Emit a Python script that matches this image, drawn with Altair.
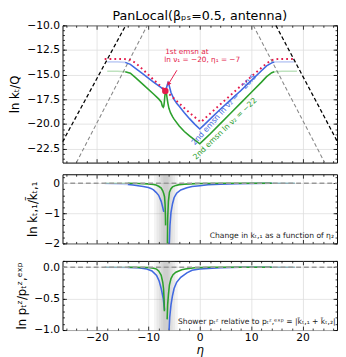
import altair as alt
import pandas as pd

FONT = "DejaVu Sans"
W = 282
XDOM = [-26.7, 26.7]
X_MAJ = [-20, -10, 0, 10, 20]
X_MIN = [-26, -24, -22, -18, -16, -14, -12, -8, -6, -4, -2, 2, 4, 6, 8, 12, 14, 16, 18, 22, 24, 26]

RED = "#e41b4b"
BLUE = "#4169e1"
GREEN = "#2ca02c"

# ---------------- top panel data ----------------
BLACK_L_ETA = [-26.7, -14.4]
BLACK_L_VAL = [-21.8, -10.0]
BLACK_R_ETA = [14.8, 26.7]
BLACK_R_VAL = [-10.0, -21.7]
GRAY_L_ETA = [-24.0, -10.2]
GRAY_L_VAL = [-23.9, -10.0]
GRAY_R_ETA = [10.4, 24.3]
GRAY_R_VAL = [-10.0, -23.9]

RED_ETA = [-18.5, -15.5, -14.5, -13.5, -12.5, -11, -9, -6.7, -4, -2, 0.2, 2, 4, 6, 8, 10, 12, 13, 14, 15, 16, 18.3]
RED_VAL = [-13.4, -13.4, -13.42, -13.5, -13.8, -14.5, -15.5, -16.6, -17.9, -18.85, -19.8, -18.95, -18.0, -17.07, -16.13, -15.2, -14.3, -13.85, -13.52, -13.42, -13.4, -13.4]

BLUE_FADE_L_ETA = [-18.0, -16.0, -14.5]
BLUE_FADE_L_VAL = [-13.7, -13.7, -13.75]
BLUE_FADE_R_ETA = [14.5, 16.0, 18.3]
BLUE_FADE_R_VAL = [-13.72, -13.7, -13.7]
BLUE_ETA = [-14.5, -13.5, -12.5, -11, -9, -7.5, -6.9, -6.7, -6.5, -6.3, -6.15, -6.0, -5.6, -5.0, -4.5, -4, -3, -2, -1, 0, 1, 2, 4, 6, 8, 10, 12, 13, 14, 14.5]
BLUE_VAL = [-13.75, -13.95, -14.35, -14.95, -15.75, -16.3, -16.55, -16.65, -16.4, -16.0, -15.8, -16.0, -16.8, -17.5, -17.9, -18.2, -18.85, -19.45, -20.0, -20.5, -20.0, -19.5, -18.5, -17.55, -16.6, -15.6, -14.6, -14.1, -13.8, -13.72]

GREEN_FADE_L_ETA = [-18.0, -16.0, -14.5]
GREEN_FADE_L_VAL = [-14.65, -14.65, -14.7]
GREEN_FADE_R_ETA = [14.5, 16.0, 18.9]
GREEN_FADE_R_VAL = [-14.7, -14.65, -14.65]
GREEN_ETA = [-14.5, -13.5, -12.5, -11, -9, -8, -7.5, -7.3, -7.1, -7.0, -6.9, -6.8, -6.7, -6.62, -6.5, -6.35, -6.2, -6.0, -5.7, -5.3, -5, -4, -3, -2, -1, 0, 1, 2, 4, 6, 8, 10, 12, 13, 14, 14.5]
GREEN_VAL = [-14.7, -14.85, -15.3, -16.0, -16.95, -17.45, -17.75, -18.15, -18.3, -18.2, -17.8, -17.2, -16.75, -16.6, -16.85, -17.4, -17.9, -18.4, -18.85, -19.25, -19.5, -20.2, -20.75, -21.2, -21.6, -22.0, -21.5, -21.0, -19.95, -18.9, -17.85, -16.8, -15.75, -15.2, -14.8, -14.7]

DOT_ETA = [-6.7]
DOT_VAL = [-16.65]

ANN_LINES = ["1st emsn at", "ln ν₁ = −20, η₁ = −7"]
ANN_ETA = [-6.72, -6.9]
ANN_VAL = [-12.72, -13.55]
ARROW_ETA = [-4.45, -6.1]
ARROW_VAL = [-14.55, -15.95]

LBL2_TEXT = ["2nd emsn ln ν₂ = −20.5", "2nd emsn ln ν₂ = −22"]
LBL2_ETA = [4.76, 4.95]
LBL2_VAL = [-18.55, -20.5]
LBL2_COL = [BLUE, GREEN]
LBL2_ANG = [312, 316]

# ---------------- middle panel data ----------------
M_GREEN_L_ETA = [-14, -12, -10, -9, -8.5, -8, -7.5, -7.2, -7.0, -6.85, -6.75, -6.68, -6.65]
M_GREEN_L_VAL = [0, -0.01, -0.02, -0.04, -0.06, -0.1, -0.16, -0.25, -0.35, -0.45, -0.7, -1.1, -1.4]
M_GREEN_R_ETA = [-6.3, -6.25, -6.1, -5.9, -5.6, -5.3, -4.65, -4, -3, -2, 0, 5, 14]
M_GREEN_R_VAL = [-2.1, -1.2, -0.6, -0.3, -0.18, -0.12, -0.07, -0.045, -0.03, -0.02, -0.01, 0, 0]
M_BLUE_L_ETA = [-14, -13, -12, -11, -10, -9.5, -9, -8.5, -8, -7.5, -7.2, -7.0]
M_BLUE_L_VAL = [-0.04, -0.06, -0.08, -0.11, -0.14, -0.17, -0.22, -0.3, -0.4, -0.6, -0.8, -0.95]
M_BLUE_R_ETA = [-5.95, -5.8, -5.6, -5.3, -5.0, -4.5, -3.7, -2.5, -1.5, 0, 1.6, 4, 7, 10, 14]
M_BLUE_R_VAL = [-2.1, -1.4, -0.97, -0.68, -0.48, -0.33, -0.22, -0.15, -0.11, -0.08, -0.05, -0.03, -0.015, -0.005, 0]
M_FADE_L_ETA = [-18.5, -14]
M_FADE_R_ETA = [14, 18.5]
M_TEXT = "Change in kₜ,₁ as a function of η₂"

# ---------------- bottom panel data ----------------
B_GREEN_L_ETA = [-14, -10, -9, -8.4, -8, -7.5, -7.2, -7.05, -6.95, -6.88]
B_GREEN_L_VAL = [0, -0.005, -0.015, -0.03, -0.06, -0.13, -0.24, -0.34, -0.5, -0.7]
B_GREEN_R_ETA = [-6.35, -6.25, -6.1, -5.9, -5.6, -5.2, -4.65, -3.5, -2.8, -1, 2, 14]
B_GREEN_R_VAL = [-0.83, -0.6, -0.44, -0.28, -0.18, -0.12, -0.08, -0.04, -0.03, -0.01, 0, 0]
B_BLUE_L_ETA = [-14, -12, -10.3, -9.3, -8.4, -7.9, -7.5, -7.1, -6.85]
B_BLUE_L_VAL = [-0.005, -0.01, -0.03, -0.06, -0.13, -0.22, -0.34, -0.5, -0.68]
B_BLUE_R_ETA = [-6.0, -5.85, -5.6, -5.3, -5.0, -4.5, -3.7, -2.5, -1.5, 0, 1.6, 4, 8, 14]
B_BLUE_R_VAL = [-1.05, -0.8, -0.6, -0.45, -0.34, -0.24, -0.16, -0.09, -0.05, -0.03, -0.02, -0.01, 0, 0]
B_TEXT = "Shower pₜᶻ relative to pₜᶻ,ᵉˣᵖ = |k̃ₜ,₁ + k̃ₜ,₂|"

BAND_CENTER = -6.6
BAND_HALF = [2.3, 1.8, 1.3, 0.9, 0.5]


def xs():
    return alt.Scale(domain=XDOM, nice=False, zero=False)


def ys(dom):
    return alt.Scale(domain=dom, nice=False, zero=False)


def df_lines(segs):
    rows = []
    for name, etas, vals in segs:
        for e, v in zip(etas, vals):
            rows.append({"eta": e, "val": v, "seg": name})
    return pd.DataFrame(rows)


def line_layer(segs, dom, color, width=1.6, dash=None, opacity=1.0):
    kw = dict(color=color, strokeWidth=width, clip=True, opacity=opacity)
    if dash:
        kw["strokeDash"] = dash
    return alt.Chart(df_lines(segs)).mark_line(**kw).encode(
        x=alt.X("eta:Q", scale=xs(), axis=None),
        y=alt.Y("val:Q", scale=ys(dom), axis=None),
        detail="seg:N",
        order="eta:Q",
    )


def axes_layers(dom, H, ymaj, ymin, yfmt, ytitle, xlabels):
    d = pd.DataFrame({"x": [0.0], "y": [dom[0]]})
    base = alt.Chart(d).mark_point(opacity=0, size=1)
    if xlabels:
        xmain = alt.Axis(values=X_MAJ, grid=True, gridColor="#dddddd", gridWidth=0.8,
                         ticks=False, domain=False, labels=True, format="d",
                         labelFont=FONT, labelFontSize=11, labelColor="black", labelPadding=2,
                         title="η", titleFont=FONT, titleFontSize=12, titleFontStyle="italic",
                         titleFontWeight="normal", titleColor="black", titlePadding=2)
    else:
        xmain = alt.Axis(values=X_MAJ, grid=True, gridColor="#dddddd", gridWidth=0.8,
                         ticks=False, domain=False, labels=False, title=None)
    ymainax = alt.Axis(values=ymaj, grid=True, gridColor="#dddddd", gridWidth=0.8,
                       ticks=False, domain=False, labels=True, format=yfmt,
                       labelFont=FONT, labelFontSize=11, labelColor="black", labelPadding=3,
                       title=ytitle, titleFont=FONT, titleFontSize=12, titleFontWeight="normal",
                       titleColor="black", titlePadding=5)
    layers = [base.encode(x=alt.X("x:Q", scale=xs(), axis=xmain),
                          y=alt.Y("y:Q", scale=ys(dom), axis=ymainax))]

    def tax(orient, off, vals, size):
        return alt.Axis(orient=orient, offset=off, values=vals, labels=False, grid=False,
                        domain=False, ticks=True, tickSize=size, tickColor="black",
                        tickWidth=0.8, minExtent=0, title=None)

    for (xo, yo, vx, vy, sz) in [("bottom", "right", X_MAJ, ymaj, 4),
                                 ("bottom", "right", X_MIN, ymin, 2),
                                 ("top", "left", X_MAJ, ymaj, 4),
                                 ("top", "left", X_MIN, ymin, 2)]:
        layers.append(base.encode(
            x=alt.X("x:Q", scale=xs(), axis=tax(xo, -H, vx, sz)),
            y=alt.Y("y:Q", scale=ys(dom), axis=tax(yo, -W, vy, sz)),
        ))
    return layers


def band_layers(H):
    rows = [{"lo": BAND_CENTER - h, "hi": BAND_CENTER + h} for h in BAND_HALF]
    return [alt.Chart(pd.DataFrame(rows)).mark_rect(color="#777777", opacity=0.08).encode(
        x=alt.X("lo:Q", scale=xs(), axis=None), x2="hi:Q",
        y=alt.value(0), y2=alt.value(H))]


# ---------- top panel ----------
TOP_DOM = [-23.9, -10.0]
H1 = 141
top_layers = axes_layers(TOP_DOM, H1, [-22.5, -20, -17.5, -15, -12.5, -10],
                         [v / 2 for v in range(-47, -19)], ".1f", "ln  kₜ/Q", False)
top_layers += [
    line_layer([("l", BLACK_L_ETA, BLACK_L_VAL), ("r", BLACK_R_ETA, BLACK_R_VAL)], TOP_DOM,
               "black", 1.3, [4, 2.5]),
    line_layer([("l", GRAY_L_ETA, GRAY_L_VAL), ("r", GRAY_R_ETA, GRAY_R_VAL)], TOP_DOM,
               "#888888", 1.1, [4, 2.5]),
    line_layer([("bl", BLUE_FADE_L_ETA, BLUE_FADE_L_VAL), ("br", BLUE_FADE_R_ETA, BLUE_FADE_R_VAL)],
               TOP_DOM, BLUE, 1.6, None, 0.3),
    line_layer([("gl", GREEN_FADE_L_ETA, GREEN_FADE_L_VAL), ("gr", GREEN_FADE_R_ETA, GREEN_FADE_R_VAL)],
               TOP_DOM, GREEN, 1.6, None, 0.3),
    line_layer([("g", GREEN_ETA, GREEN_VAL)], TOP_DOM, GREEN, 1.6),
    line_layer([("b", BLUE_ETA, BLUE_VAL)], TOP_DOM, BLUE, 1.6),
    line_layer([("r", RED_ETA, RED_VAL)], TOP_DOM, RED, 2.0, [1.8, 3.2]),
    alt.Chart(pd.DataFrame({"eta": ARROW_ETA[:1], "val": ARROW_VAL[:1],
                            "eta2": ARROW_ETA[1:], "val2": ARROW_VAL[1:]})).mark_rule(
        color=RED, strokeWidth=1).encode(
        x=alt.X("eta:Q", scale=xs(), axis=None), y=alt.Y("val:Q", scale=ys(TOP_DOM), axis=None),
        x2="eta2:Q", y2="val2:Q"),
    alt.Chart(pd.DataFrame({"eta": ARROW_ETA[1:], "val": ARROW_VAL[1:]})).mark_point(
        shape="triangle-up", filled=True, color=RED, size=22, angle=210, opacity=1).encode(
        x=alt.X("eta:Q", scale=xs(), axis=None), y=alt.Y("val:Q", scale=ys(TOP_DOM), axis=None)),
    alt.Chart(pd.DataFrame({"eta": DOT_ETA, "val": DOT_VAL})).mark_point(
        filled=True, color=RED, size=45, opacity=1).encode(
        x=alt.X("eta:Q", scale=xs(), axis=None), y=alt.Y("val:Q", scale=ys(TOP_DOM), axis=None)),
    alt.Chart(pd.DataFrame({"eta": ANN_ETA, "val": ANN_VAL, "t": ANN_LINES})).mark_text(
        font=FONT, fontSize=7.5, color=RED, align="left", baseline="middle").encode(
        x=alt.X("eta:Q", scale=xs(), axis=None), y=alt.Y("val:Q", scale=ys(TOP_DOM), axis=None),
        text="t:N"),
]
for t, e, v, c, a in zip(LBL2_TEXT, LBL2_ETA, LBL2_VAL, LBL2_COL, LBL2_ANG):
    top_layers.append(alt.Chart(pd.DataFrame({"eta": [e], "val": [v], "t": [t]})).mark_text(
        font=FONT, fontSize=7.9, angle=a, align="center", baseline="middle", color=c).encode(
        x=alt.X("eta:Q", scale=xs(), axis=None), y=alt.Y("val:Q", scale=ys(TOP_DOM), axis=None),
        text="t:N"))

top = alt.layer(*top_layers).resolve_axis(x="independent", y="independent").properties(
    width=W, height=H1,
    title=alt.TitleParams("PanLocal(βₚₛ=0.5, antenna)", font=FONT, fontSize=13,
                          fontWeight="normal", color="black", offset=-4, anchor="middle"))

# ---------- middle panel ----------
MID_DOM = [-2.0, 0.3]
H2 = 71
mid_layers = axes_layers(MID_DOM, H2, [-2, -1, 0], [round(-2 + 0.2 * i, 1) for i in range(12)],
                         "d", "ln  kₜ,₁/k̃ₜ,₁", False)
mid_layers += band_layers(H2)
mid_layers += [
    line_layer([("gl", M_FADE_L_ETA, [0, 0]), ("gr", M_FADE_R_ETA, [0, 0])], MID_DOM, GREEN, 1.6, None, 0.3),
    line_layer([("bl", M_FADE_L_ETA, [-0.005, -0.04]), ("br", M_FADE_R_ETA, [0, 0])], MID_DOM, BLUE, 1.6, None, 0.3),
    line_layer([("l", M_BLUE_L_ETA, M_BLUE_L_VAL), ("r", M_BLUE_R_ETA, M_BLUE_R_VAL)], MID_DOM, BLUE, 1.6),
    line_layer([("l", M_GREEN_L_ETA, M_GREEN_L_VAL), ("r", M_GREEN_R_ETA, M_GREEN_R_VAL)], MID_DOM, GREEN, 1.6),
    line_layer([("z", XDOM, [0, 0])], MID_DOM, "#999999", 1.5, [5, 3]),
    alt.Chart(pd.DataFrame({"eta": [26.1], "val": [-1.77], "t": [M_TEXT]})).mark_text(
        font=FONT, fontSize=7.8, color="#222222", align="right", baseline="middle").encode(
        x=alt.X("eta:Q", scale=xs(), axis=None), y=alt.Y("val:Q", scale=ys(MID_DOM), axis=None),
        text="t:N"),
]
mid = alt.layer(*mid_layers).resolve_axis(x="independent", y="independent").properties(width=W, height=H2)

# ---------- bottom panel ----------
BOT_DOM = [-1.0, 0.1]
H3 = 71
bot_layers = axes_layers(BOT_DOM, H3, [-1.0, -0.5, 0.0], [round(-1 + 0.1 * i, 1) for i in range(12)],
                         ".1f", "ln  pₜᶻ/pₜᶻ,ᵉˣᵖ", True)
bot_layers += band_layers(H3)
bot_layers += [
    line_layer([("gl", M_FADE_L_ETA, [0, 0]), ("gr", M_FADE_R_ETA, [0, 0])], BOT_DOM, GREEN, 1.6, None, 0.3),
    line_layer([("bl", M_FADE_L_ETA, [0, -0.005]), ("br", M_FADE_R_ETA, [0, 0])], BOT_DOM, BLUE, 1.6, None, 0.3),
    line_layer([("l", B_BLUE_L_ETA, B_BLUE_L_VAL), ("r", B_BLUE_R_ETA, B_BLUE_R_VAL)], BOT_DOM, BLUE, 1.6),
    line_layer([("l", B_GREEN_L_ETA, B_GREEN_L_VAL), ("r", B_GREEN_R_ETA, B_GREEN_R_VAL)], BOT_DOM, GREEN, 1.6),
    line_layer([("z", XDOM, [0, 0])], BOT_DOM, "#999999", 1.5, [5, 3]),
    alt.Chart(pd.DataFrame({"eta": [26.4], "val": [-0.88], "t": [B_TEXT]})).mark_text(
        font=FONT, fontSize=7.8, color="#222222", align="right", baseline="middle").encode(
        x=alt.X("eta:Q", scale=xs(), axis=None), y=alt.Y("val:Q", scale=ys(BOT_DOM), axis=None),
        text="t:N"),
]
bot = alt.layer(*bot_layers).resolve_axis(x="independent", y="independent").properties(width=W, height=H3)

chart = alt.vconcat(top, mid, bot, spacing=10,
                    padding={"left": 0, "top": -3, "right": 0, "bottom": 0}).configure(
    font=FONT, view=alt.ViewConfig(stroke="black", strokeWidth=1))

chart.save("out.html", embed_options={"renderer": "svg", "actions": False})
